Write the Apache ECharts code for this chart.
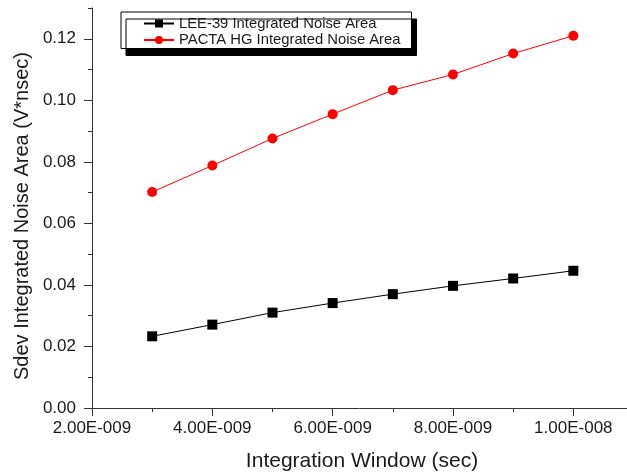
<!DOCTYPE html>
<html>
<head>
<meta charset="utf-8">
<script src="https://cdn.jsdelivr.net/npm/echarts@6/dist/echarts.min.js"></script>
<style>
  html, body { margin: 0; padding: 0; background: #fff; }
  #chart { width: 627px; height: 474px; }
</style>
</head>
<body>
<div id="chart"></div>
<script>
// Integration window (seconds)
const windowSec = [3e-9, 4e-9, 5e-9, 6e-9, 7e-9, 8e-9, 9e-9, 1e-8];
// Standard deviation of integrated noise area (V*nsec)
const lee39Noise = [0.0233, 0.0271, 0.0310, 0.0341, 0.0370, 0.0397, 0.0421, 0.0446];
const pactaHgNoise = [0.0702, 0.0788, 0.0876, 0.0955, 0.1033, 0.1084, 0.1152, 0.1210];

const seriesNames = ['LEE-39 Integrated Noise Area', 'PACTA HG Integrated Noise Area'];
const yTickValues = [0, 0.02, 0.04, 0.06, 0.08, 0.10, 0.12];
const yMinorTickValues = [0.01, 0.03, 0.05, 0.07, 0.09, 0.11, 0.13];
const xTickValues = [2e-9, 4e-9, 6e-9, 8e-9, 1e-8];
const xMinorTickValues = [3e-9, 5e-9, 7e-9, 9e-9];

const FONT = '"Liberation Sans", Arial, sans-serif';
const TEXT = '#1a1a1a';
const AXIS = '#333333';

// "2.00E-009" style labels
function sciLabel(v) {
  const parts = Number(v).toExponential(2).split('e');
  const n = parseInt(parts[1], 10);
  return parts[0] + 'E' + (n < 0 ? '-' : '+') + String(Math.abs(n)).padStart(3, '0');
}

const chart = echarts.init(document.getElementById('chart'), null, { renderer: 'canvas' });

const option = {
  backgroundColor: '#ffffff',
  animation: false,
  textStyle: { fontFamily: FONT },
  grid: { left: 92, top: 8, width: 535, height: 400, containLabel: false, outerBoundsMode: 'none' },
  legend: {
    orient: 'vertical',
    left: 121,
    top: 12,
    padding: [4, 11, 1, 22],
    itemWidth: 30,
    itemHeight: 10,
    itemGap: 1.5,
    backgroundColor: '#ffffff',
    borderColor: '#000000',
    borderWidth: 1,
    shadowColor: '#000000',
    shadowBlur: 0,
    shadowOffsetX: 5,
    shadowOffsetY: 7,
    textStyle: { fontFamily: FONT, fontSize: 14.8, color: TEXT },
    data: seriesNames
  },
  xAxis: [
    {
      type: 'value',
      position: 'bottom',
      min: 2e-9,
      max: 1.0892e-8,
      name: 'Integration Window (sec)',
      nameLocation: 'middle',
      nameGap: 43,
      nameTextStyle: { fontFamily: FONT, fontSize: 21, color: TEXT, padding: [0, 0, 0, 5] },
      axisLine: { show: true, lineStyle: { color: AXIS, width: 1 } },
      axisTick: { show: true, inside: false, length: 8, lineStyle: { color: AXIS }, customValues: xTickValues },
      axisLabel: {
        show: true, margin: 12, fontFamily: FONT, fontSize: 17, color: TEXT,
        customValues: xTickValues,
        formatter: sciLabel
      },
      splitLine: { show: false }
    },
    {
      // minor ticks
      type: 'value',
      position: 'bottom',
      min: 2e-9,
      max: 1.0892e-8,
      axisLine: { show: false },
      axisTick: { show: true, inside: false, length: 4, lineStyle: { color: AXIS }, customValues: xMinorTickValues },
      axisLabel: { show: false },
      splitLine: { show: false }
    }
  ],
  yAxis: [
    {
      type: 'value',
      position: 'left',
      min: 0,
      max: 0.13,
      name: 'Sdev Integrated Noise Area (V*nsec)',
      nameLocation: 'middle',
      nameGap: 56,
      nameTextStyle: { fontFamily: FONT, fontSize: 20, color: TEXT, padding: [0, 16, 0, 0] },
      axisLine: { show: true, lineStyle: { color: AXIS, width: 1 } },
      axisTick: { show: true, inside: false, length: 8, lineStyle: { color: AXIS }, customValues: yTickValues },
      axisLabel: {
        show: true, margin: 16, fontFamily: FONT, fontSize: 17, color: TEXT,
        customValues: yTickValues,
        formatter: v => Number(v).toFixed(2)
      },
      splitLine: { show: false }
    },
    {
      // minor ticks
      type: 'value',
      position: 'left',
      min: 0,
      max: 0.13,
      axisLine: { show: false },
      axisTick: { show: true, inside: false, length: 4, lineStyle: { color: AXIS }, customValues: yMinorTickValues },
      axisLabel: { show: false },
      splitLine: { show: false }
    }
  ],
  series: [
    {
      name: seriesNames[0],
      type: 'line',
      xAxisIndex: 0,
      yAxisIndex: 0,
      data: windowSec.map((x, i) => [x, lee39Noise[i]]),
      symbol: 'rect',
      symbolSize: 10,
      lineStyle: { color: '#000000', width: 1 },
      itemStyle: { color: '#000000' },
      z: 3
    },
    {
      name: seriesNames[1],
      type: 'line',
      xAxisIndex: 0,
      yAxisIndex: 0,
      data: windowSec.map((x, i) => [x, pactaHgNoise[i]]),
      symbol: 'circle',
      symbolSize: 10,
      lineStyle: { color: '#ff0000', width: 1 },
      itemStyle: { color: '#ff0000' },
      z: 3
    }
  ]
};

chart.setOption(option);
</script>
</body>
</html>
